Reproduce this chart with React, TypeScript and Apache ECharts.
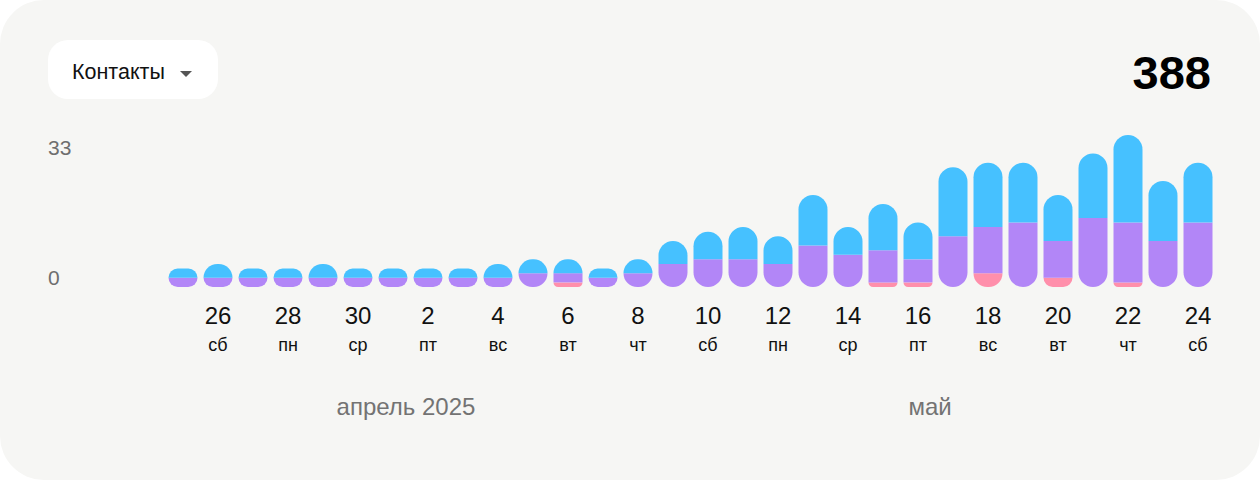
import React, { useEffect, useRef } from "react";
import * as echarts from "echarts";

const days = [25, 26, 27, 28, 29, 30, 1, 2, 3, 4, 5, 6, 7, 8, 9, 10, 11, 12, 13, 14, 15, 16, 17, 18, 19, 20, 21, 22, 23, 24];
const weekdays = ["пт", "сб", "вс", "пн", "вт", "ср", "чт", "пт", "сб", "вс", "пн", "вт", "ср", "чт", "пт", "сб", "вс", "пн", "вт", "ср", "чт", "пт", "сб", "вс", "пн", "вт", "ср", "чт", "пт", "сб"];
const blueValues = [2, 3, 2, 2, 3, 2, 2, 2, 2, 3, 3, 3, 2, 3, 5, 6, 7, 6, 11, 6, 10, 8, 15, 14, 13, 10, 14, 19, 13, 13];
const purpleValues = [2, 2, 2, 2, 2, 2, 2, 2, 2, 2, 3, 2, 2, 3, 5, 6, 6, 5, 9, 7, 7, 5, 11, 10, 14, 8, 15, 13, 10, 14];
const pinkValues = [0, 0, 0, 0, 0, 0, 0, 0, 0, 0, 0, 1, 0, 0, 0, 0, 0, 0, 0, 0, 1, 1, 0, 3, 0, 2, 0, 1, 0, 0];
const months = ["апрель 2025", "май"];
const title = "Контакты";

const FONT = 'Arial, "Liberation Sans", Helvetica, sans-serif';
const COLORS = ["#FF8FAB", "#B286F7", "#46C1FF"];

export default function App() {
  const ref = useRef<HTMLDivElement>(null);

  useEffect(() => {
    if (!ref.current) return;
    const chart = echarts.init(ref.current, null, { renderer: "svg" });
    const stacks = [pinkValues, purpleValues, blueValues];
    const totals = days.map((_, i) => stacks.reduce((s, a) => s + a[i], 0));
    const total = totals.reduce((s, v) => s + v, 0);
    const maxV = Math.max(...totals);
    const R = 14.5;

    const series = stacks.map((arr, si) => ({
      type: "bar",
      stack: "all",
      barWidth: 29,
      itemStyle: { color: COLORS[si] },
      data: arr.map((v, i) => {
        let top = -1;
        let bottom = -1;
        stacks.forEach((a, k) => {
          if (a[i] > 0) {
            if (bottom < 0) bottom = k;
            top = k;
          }
        });
        const br = [0, 0, 0, 0];
        if (si === top) { br[0] = R; br[1] = R; }
        if (si === bottom) { br[2] = R; br[3] = R; }
        return { value: v, itemStyle: { borderRadius: br } };
      }),
    }));

    chart.setOption({
      animation: false,
      backgroundColor: "transparent",
      textStyle: { fontFamily: FONT },
      grid: { left: 165.5, right: 44.5, top: 135, bottom: 193 },
      xAxis: {
        type: "category",
        data: days.map((d, i) => `${d} ${weekdays[i]}`),
        axisLine: { show: false },
        axisTick: { show: false },
        axisLabel: {
          interval: (i: number) => i % 2 === 1,
          margin: 14,
          formatter: (_v: string, i: number) => `{d|${days[i]}}\n{w|${weekdays[i]}}`,
          rich: {
            d: { fontSize: 24, color: "#111", lineHeight: 29, fontFamily: FONT },
            w: { fontSize: 18, color: "#111", lineHeight: 29, fontFamily: FONT },
          },
        },
      },
      yAxis: {
        type: "value",
        min: 0,
        max: maxV,
        interval: maxV,
        splitLine: { show: false },
        axisLine: { show: false },
        axisTick: { show: false },
        axisLabel: {
          align: "left",
          margin: 117.5,
          formatter: (v: number) => (v === 0 ? `{z|${v}}` : `{t|${v}}`),
          rich: {
            z: { fontSize: 21, color: "#6e6e6e", padding: [0, 0, 20, 0], fontFamily: FONT },
            t: { fontSize: 21, color: "#6e6e6e", padding: [24, 0, 0, 0], fontFamily: FONT },
          },
        },
      },
      graphic: [
        { type: "rect", shape: { x: 48, y: 40, width: 170, height: 59, r: 20 }, style: { fill: "#ffffff" } },
        { type: "text", x: 72, y: 72, style: { text: title, fontSize: 21.5, fill: "#111", fontFamily: FONT, verticalAlign: "middle", align: "left" } },
        { type: "polygon", shape: { points: [[180, 71], [192, 71], [186, 77]] }, style: { fill: "#555" } },
        { type: "text", x: 1211, y: 72, style: { text: String(total), fontSize: 47, fontWeight: "bold", fill: "#000", fontFamily: FONT, align: "right", verticalAlign: "middle" } },
        { type: "text", x: 406, y: 406, style: { text: months[0], fontSize: 24, fill: "#737373", fontFamily: FONT, align: "center", verticalAlign: "middle" } },
        { type: "text", x: 930, y: 406, style: { text: months[1], fontSize: 24, fill: "#737373", fontFamily: FONT, align: "center", verticalAlign: "middle" } },
      ],
      series,
    });
    return () => chart.dispose();
  }, []);

  return (
    <div style={{ position: "absolute", left: 0, top: 0, width: 1260, height: 480, background: "#ffffff" }}>
      <div style={{ position: "absolute", left: 0, top: 0, width: 1260, height: 480, background: "#f6f6f4", borderRadius: 44 }}>
        <div ref={ref} style={{ width: 1260, height: 480 }} />
      </div>
    </div>
  );
}
